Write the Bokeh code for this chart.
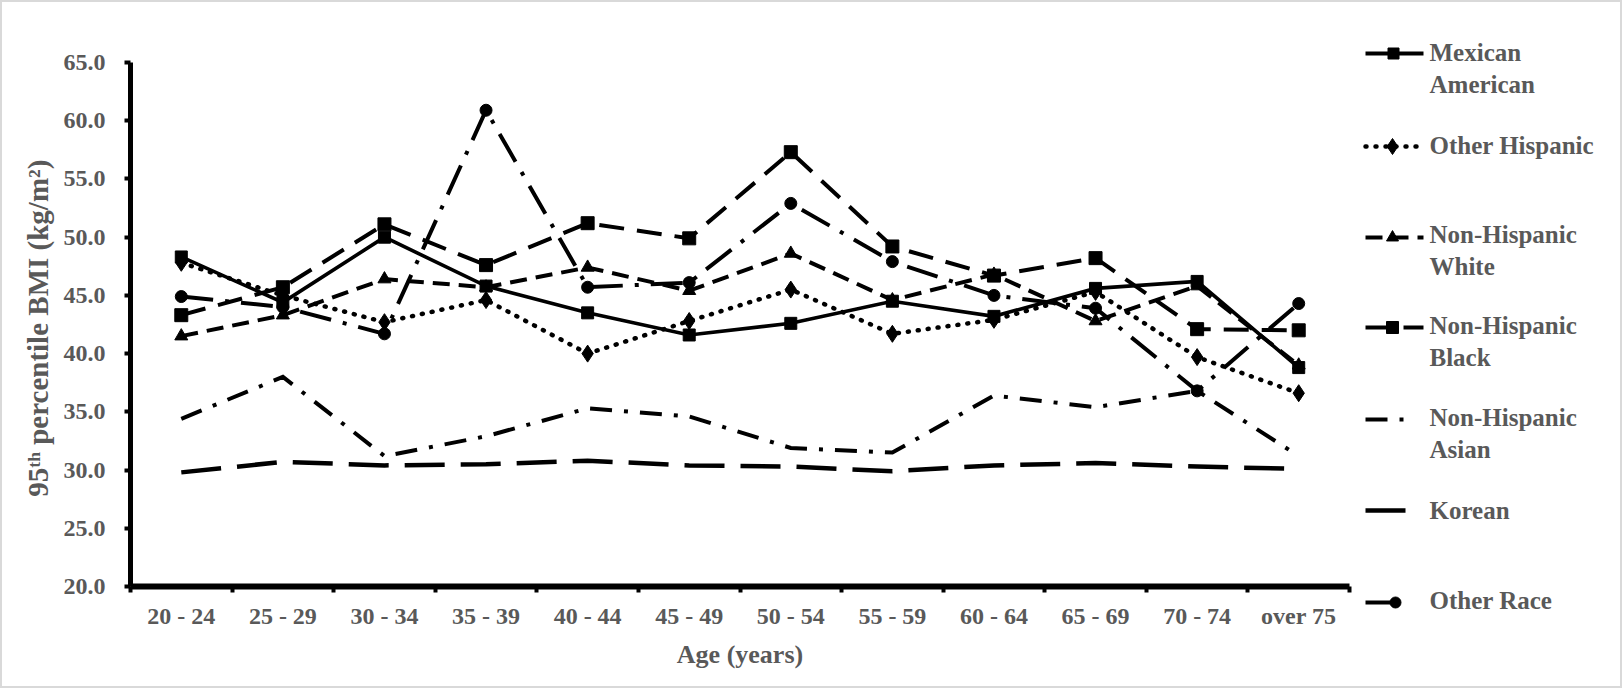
from bokeh.plotting import figure
from bokeh.models import Range1d, FixedTicker, NumeralTickFormatter, ColumnDataSource
from bokeh.layouts import row
from bokeh.core.properties import value
from bokeh.embed import file_html
from bokeh.resources import INLINE

# ---------------- data ----------------
age_groups = ["20 - 24", "25 - 29", "30 - 34", "35 - 39", "40 - 44", "45 - 49",
              "50 - 54", "55 - 59", "60 - 64", "65 - 69", "70 - 74", "over 75"]

mexican_american = [48.3, 44.4, 50.0, 45.8, 43.5, 41.6, 42.6, 44.5, 43.2, 45.6, 46.2, 38.8]
other_hispanic   = [47.8, 45.0, 42.7, 44.6, 40.0, 42.8, 45.5, 41.7, 42.9, 45.3, 39.7, 36.6]
nh_white         = [41.5, 43.3, 46.4, 45.7, 47.4, 45.4, 48.6, 44.6, 46.8, 42.8, 45.8, 39.0]
nh_black         = [43.3, 45.7, 51.1, 47.6, 51.2, 49.9, 57.3, 49.2, 46.7, 48.2, 42.1, 42.0]
nh_asian         = [34.4, 38.0, 31.2, 32.9, 35.3, 34.6, 31.9, 31.5, 36.4, 35.4, 36.8, 31.2]
korean           = [29.8, 30.7, 30.4, 30.5, 30.8, 30.4, 30.3, 29.9, 30.4, 30.6, 30.3, 30.1]
other_race       = [44.9, 44.0, 41.7, 60.9, 45.7, 46.1, 52.9, 47.9, 45.0, 43.9, 36.8, 44.3]

series_names = ["Mexican American", "Other Hispanic", "Non-Hispanic White",
                "Non-Hispanic Black", "Non-Hispanic Asian", "Korean", "Other Race"]
legend_lines = [["Mexican", "American"], ["Other Hispanic"], ["Non-Hispanic", "White"],
                ["Non-Hispanic", "Black"], ["Non-Hispanic", "Asian"], ["Korean"], ["Other Race"]]

y_ticks = [20, 25, 30, 35, 40, 45, 50, 55, 60, 65]
y_title = "95\u1d57\u02b0 percentile BMI  (kg/m\u00b2)"
x_title = "Age (years)"

# ---------------- styles ----------------
FONT = "Liberation Serif"
GRAY = "#595959"
styles = [
    dict(dash="solid",        width=3.6, marker="square",   size=12, cap="butt"),
    dict(dash="1 9",          width=4.5, marker="diamond",  size=17, cap="round"),
    dict(dash="17 9",         width=4,   marker="triangle", size=13, cap="butt"),
    dict(dash="25 13",        width=4,   marker="square",   size=13, cap="butt"),
    dict(dash="22 12 4 12",   width=4,   marker=None,       size=0,  cap="butt"),
    dict(dash="40 16",        width=4.5, marker=None,       size=0,  cap="butt"),
    dict(dash="32 12 4 12",   width=4,   marker="circle",   size=12, cap="butt"),
]
all_series = [mexican_american, other_hispanic, nh_white, nh_black, nh_asian, korean, other_race]

n = len(age_groups)
xs = [i + 0.5 for i in range(n)]

W_MAIN, H = 1353, 684
p = figure(width=W_MAIN, height=H, x_range=Range1d(0, n), y_range=Range1d(20, 65),
           output_backend="svg", toolbar_location=None,
           min_border_left=128, min_border_right=6, min_border_top=60, min_border_bottom=100)
p.frame_align = False
p.xgrid.visible = False
p.ygrid.visible = False
p.outline_line_color = None
p.background_fill_color = "white"
p.border_fill_color = "white"

# x axis: ticks at category boundaries, labels at centres
p.xaxis.ticker = FixedTicker(ticks=xs, minor_ticks=list(range(n + 1)))
p.xaxis.major_label_overrides = {x: lab for x, lab in zip(xs, age_groups)}
p.xaxis.major_tick_out = 6
p.xaxis.major_tick_in = 0
p.xaxis.minor_tick_out = 6
p.xaxis.minor_tick_in = 0
p.xaxis.minor_tick_line_width = 4
p.xaxis.minor_tick_line_color = "black"
p.xaxis.axis_line_width = 6
p.xaxis.major_label_standoff = 10
p.xaxis.axis_label = x_title
p.xaxis.axis_label_standoff = 8

# y axis
p.yaxis.ticker = FixedTicker(ticks=y_ticks, minor_ticks=[])
p.yaxis.formatter = NumeralTickFormatter(format="0.0")
p.yaxis.major_tick_out = 6
p.yaxis.major_tick_in = 0
p.yaxis.major_tick_line_width = 4
p.yaxis.axis_line_width = 5
p.yaxis.major_label_standoff = 19
p.yaxis.axis_label = y_title
p.yaxis.axis_label_standoff = 7

for ax in (p.xaxis[0], p.yaxis[0]):
    ax.axis_line_color = "black"
    ax.major_label_text_font = FONT
    ax.major_label_text_font_style = "bold"
    ax.major_label_text_font_size = "24px"
    ax.major_label_text_color = GRAY
    ax.axis_label_text_font = FONT
    ax.axis_label_text_font_style = "bold"
    ax.axis_label_text_color = GRAY
p.xaxis.major_tick_line_color = None
p.yaxis.major_tick_line_color = "black"
p.xaxis.axis_label_text_font_size = "26px"
p.yaxis.axis_label_text_font_size = "29px"

for ys, st in zip(all_series, styles):
    src = ColumnDataSource(dict(x=xs, y=ys))
    p.line("x", "y", source=src, line_color="black", line_width=st["width"],
           line_dash=st["dash"], line_cap=st["cap"], line_join="miter")
    if st["marker"]:
        p.scatter("x", "y", source=src, marker=st["marker"], size=st["size"],
                  fill_color="black", line_color="black")

# ---------------- legend panel ----------------
W_LEG = 1618 - W_MAIN
leg = figure(width=W_LEG, height=H, x_range=Range1d(0, W_LEG), y_range=Range1d(H, 0),
             output_backend="svg", toolbar_location=None, x_axis_type=None, y_axis_type=None,
             min_border=0, min_border_left=0, min_border_right=0, min_border_top=0, min_border_bottom=0)
leg.frame_align = False
leg.xgrid.visible = False
leg.ygrid.visible = False
leg.outline_line_color = None
leg.border_fill_color = "white"

glyph_y = [51, 144, 235, 325, 417, 508, 600]
text_y0 = [50, 143, 232, 323, 415, 508, 598]
line_end = [68, 68, 68, 68, 50, 50, 50]
mark_x = [38, 37, 37, 37, None, None, 40]
for i, st in enumerate(styles):
    gy = glyph_y[i]
    leg.line([10, line_end[i]], [gy, gy], line_color="black",
             line_width=st["width"] + (0.5 if i == 0 else 0), line_dash=st["dash"], line_cap=st["cap"])
    if st["marker"]:
        leg.scatter([mark_x[i]], [gy], marker=st["marker"], size=st["size"] - 1,
                    fill_color="black", line_color="black")
    lines = legend_lines[i]
    leg.text(x=[74] * len(lines), y=[text_y0[i] + 32 * k for k in range(len(lines))], text=lines,
             text_font=value(FONT), text_font_style="bold", text_font_size="25px",
             text_color=GRAY, text_baseline="middle", text_align="left")

layout = row(p, leg, styles={"border": "2px solid #d9d9d9"})
open("out.html", "w").write(file_html(layout, INLINE))
